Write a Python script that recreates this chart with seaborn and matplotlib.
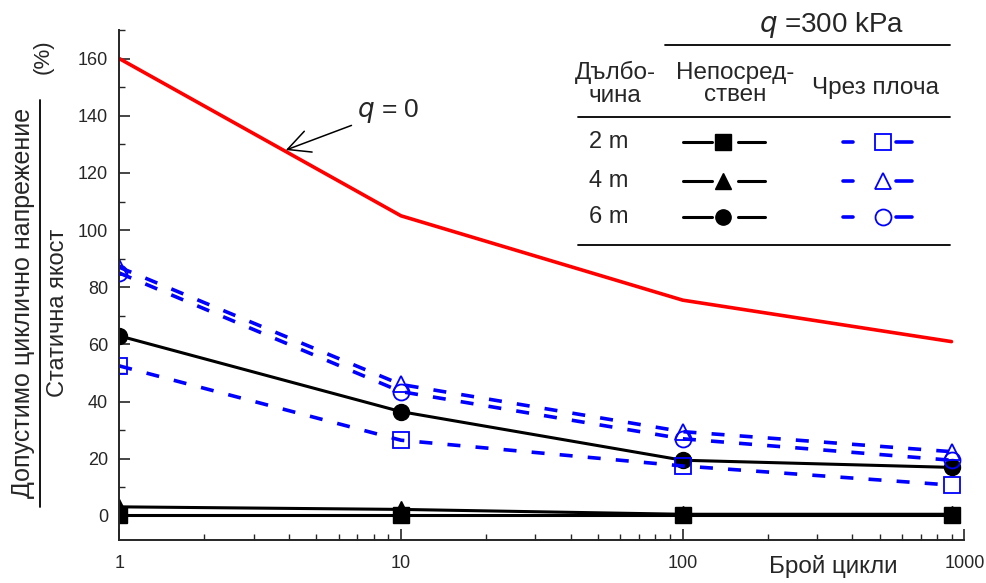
import numpy as np
import pandas as pd
import seaborn as sns
import matplotlib.pyplot as plt
from matplotlib.lines import Line2D

# data
cycles = [1, 10, 100, 900]
q0 = [160, 105, 75.5, 61]
direct_2m = [0.5, 0.5, 0.5, 0.5]
direct_4m = [3.2, 2.3, 0.6, 0.6]
direct_6m = [63, 36.5, 19.5, 17]
plate_2m = [52.5, 26.5, 17.5, 10.8]
plate_4m = [87, 46, 29.5, 22.5]
plate_6m = [85, 43.5, 27, 19.5]

sns.set_style("ticks")
plt.rcParams['font.family'] = ['Liberation Sans', 'DejaVu Sans']
plt.rcParams['mathtext.fontset'] = 'dejavusans'

W, H = 986, 583
fig = plt.figure(figsize=(W / 100, H / 100), dpi=100)
ax = fig.add_axes([119.3 / W, 1 - 540 / H, (964.4 - 119.3) / W, (540 - 30) / H])

BLUE = '#0000ff'
dash = (0, (3.6, 4.2))

sns.lineplot(x=cycles, y=q0, ax=ax, color='red', linewidth=2.6)

for vals, mk in [(direct_2m, 's'), (direct_4m, '^'), (direct_6m, 'o')]:
    sns.lineplot(x=cycles, y=vals, ax=ax, color='black', linewidth=2.2,
                 marker=mk, markersize=11.5, markerfacecolor='black',
                 markeredgecolor='black', markeredgewidth=1)

for vals, mk in [(plate_2m, 's'), (plate_4m, '^'), (plate_6m, 'o')]:
    sns.lineplot(x=cycles, y=vals, ax=ax, color=BLUE, linewidth=2.6,
                 linestyle=dash, marker=mk, markersize=11.5,
                 markerfacecolor='none', markeredgecolor=BLUE,
                 markeredgewidth=1.3)

ax.set_xscale('log')
ax.set_xlim(1, 1000)
ax.set_ylim(-8.4, 170)
ax.set_yticks(range(0, 161, 20))
ax.set_yticks(range(0, 171, 10), minor=True)
ax.set_xticks([1, 10, 100, 1000])
ax.set_xticklabels(['1', '10', '100', '1000'])
ax.tick_params(axis='both', which='major', direction='in', length=8,
               width=1.2, labelsize=13, pad=8)
ax.tick_params(axis='x', which='major', pad=11)
ax.tick_params(axis='both', which='minor', direction='in', length=4, width=1)
for s in ['top', 'right']:
    ax.spines[s].set_visible(False)
for s in ['left', 'bottom']:
    ax.spines[s].set_linewidth(1.4)
ax.set_xlabel('')
ax.set_ylabel('')

# annotation for q = 0
ax.annotate('$q$ = 0', xy=(3.9, 128), xytext=(7.0, 141.5),
            fontsize=19, va='center', ha='left',
            arrowprops=dict(arrowstyle='->', lw=1.1, color='black',
                            mutation_scale=40, shrinkA=2, shrinkB=0))

fx = lambda px: px / W
fy = lambda py: 1 - py / H

# axis labels
fig.text(fx(833), fy(566), 'Брой цикли', fontsize=17.5, ha='center', va='center')
fig.text(fx(23), fy(303), 'Допустимо циклично напрежение', rotation=90,
         fontsize=18, ha='center', va='center')
fig.text(fx(58), fy(313), 'Статична якост', rotation=90,
         fontsize=17, ha='center', va='center')
fig.text(fx(43), fy(57), '(%)', rotation=90, fontsize=16, ha='center', va='center')
fig.add_artist(Line2D([fx(40), fx(40)], [fy(100), fy(507)], color='black', lw=1.3))

# table-style legend
fig.text(fx(832), fy(25), '$q$ =300 kPa', fontsize=20, ha='center', va='center')
fig.add_artist(Line2D([fx(665), fx(950)], [fy(45), fy(45)], color='black', lw=1.3))
fig.text(fx(615), fy(84), 'Дълбо-\nчина', fontsize=17.5, ha='center', va='center',
         linespacing=1.05)
fig.text(fx(735), fy(84), 'Непосред-\nствен', fontsize=17.5, ha='center',
         va='center', linespacing=1.05)
fig.text(fx(875), fy(88), 'Чрез плоча', fontsize=17.5, ha='center', va='center')
fig.add_artist(Line2D([fx(578), fx(950)], [fy(117), fy(117)], color='black', lw=1.3))
fig.add_artist(Line2D([fx(578), fx(950)], [fy(245), fy(245)], color='black', lw=1.3))

for ry, lab, mk in [(142, '2 m', 's'), (181, '4 m', '^'), (217, '6 m', 'o')]:
    fig.text(fx(609), fy(ry), lab, fontsize=17, ha='center', va='center')
    for x0, x1 in [(683, 712), (738, 765)]:
        fig.add_artist(Line2D([fx(x0), fx(x1)], [fy(ry), fy(ry)], color='black', lw=2.2))
    fig.add_artist(Line2D([fx(723)], [fy(ry)], marker=mk, markersize=11,
                          color='black', linestyle='none'))
    for x0, x1 in [(843, 853), (896, 912)]:
        fig.add_artist(Line2D([fx(x0), fx(x1)], [fy(ry), fy(ry)], color=BLUE, lw=2.6))
    fig.add_artist(Line2D([fx(883)], [fy(ry)], marker=mk, markersize=11.5,
                          markerfacecolor='none', markeredgecolor=BLUE,
                          markeredgewidth=1.3, linestyle='none'))

fig.savefig('out.png', dpi=100)
